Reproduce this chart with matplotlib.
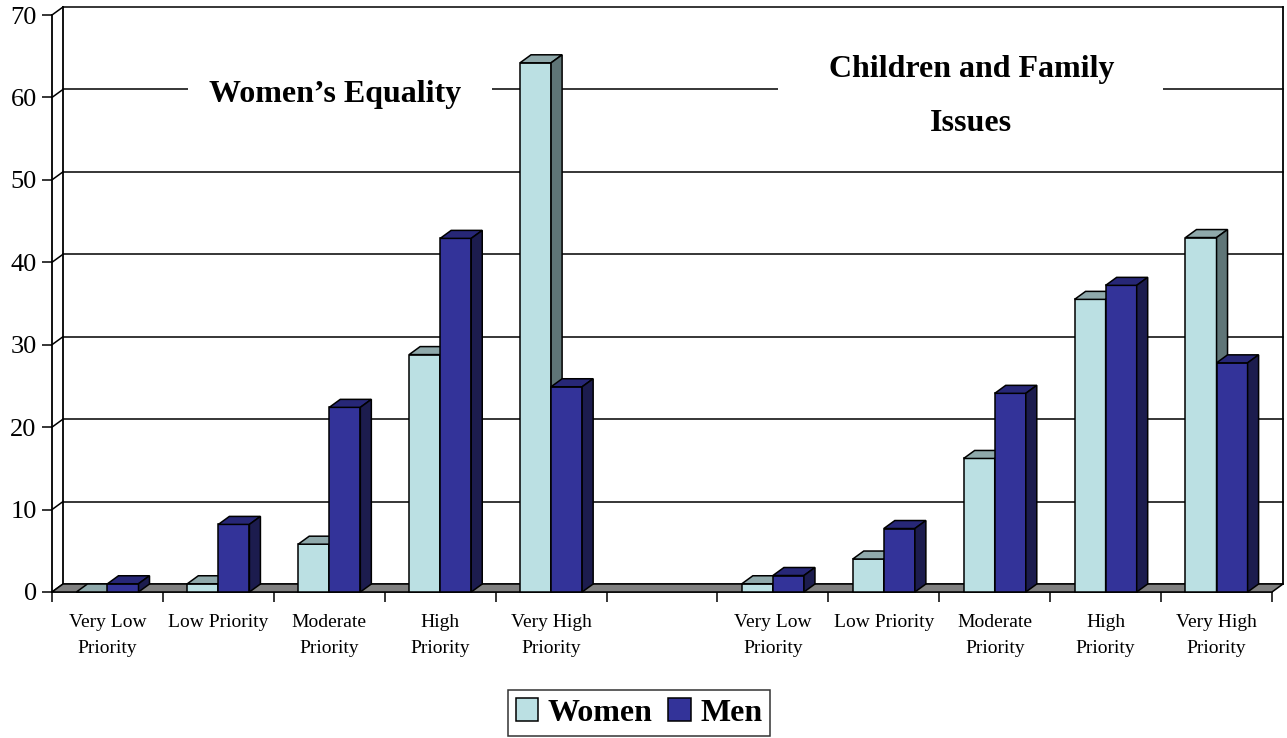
import numpy as np
import matplotlib
matplotlib.use('Agg')
import matplotlib.pyplot as plt
from matplotlib.patches import Polygon, Rectangle, Patch

plt.rcParams['font.family'] = ['Liberation Serif', 'DejaVu Serif']

# data (percent)
cats = ['Very Low\nPriority', 'Low Priority', 'Moderate\nPriority', 'High\nPriority', 'Very High\nPriority',
        '', 'Very Low\nPriority', 'Low Priority', 'Moderate\nPriority', 'High\nPriority', 'Very High\nPriority']
women = [0, 1, 5.8, 28.8, 64.2, None, 1, 4, 16.2, 35.5, 43.0]
men = [1, 8.2, 22.4, 42.9, 24.9, None, 2, 7.7, 24.1, 37.2, 27.8]
yticks = list(range(0, 71, 10))

c_w = ('#bbe0e3', '#8fa9ab', '#5f7577')   # front, top, side
c_m = ('#333399', '#272777', '#1c1c4e')
floor_c = '#808080'

fig = plt.figure(figsize=(12.87, 7.38), dpi=100)
ax = fig.add_axes([52/1287, 146/738, 1220/1287, 577/738])
n = len(cats)
ax.set_xlim(0, n)
ax.set_ylim(0, 70)

dx = 11/110.9      # depth offset in x (slot units)
dy = 8/8.24        # depth offset in y (value units)
bw = 0.28

def add(poly, fc, z):
    ax.add_patch(Polygon(poly, closed=True, fc=fc, ec='black', lw=1.1, zorder=z, clip_on=False,
                         joinstyle='miter'))

# back wall gridlines and borders
for v in yticks:
    ax.plot([dx, n + dx], [v + dy, v + dy], color='black', lw=1.1, zorder=1, clip_on=False)
    ax.plot([0, dx], [v, v + dy], color='black', lw=1.1, zorder=1, clip_on=False)
ax.plot([dx, dx], [dy, 70 + dy], color='black', lw=1.3, zorder=1, clip_on=False)
ax.plot([n + dx, n + dx], [dy, 70 + dy], color='black', lw=1.3, zorder=1, clip_on=False)

# white boxes behind the titles
ax.add_patch(Rectangle((1.23, 57), 2.74, 8, fc='white', ec='none', zorder=2, clip_on=False))
ax.add_patch(Rectangle((6.55, 55), 3.47, 13, fc='white', ec='none', zorder=2, clip_on=False))

# floor
add([(0, 0), (n, 0), (n + dx, dy), (dx, dy)], floor_c, 3)

def bar3d(x0, h, cols, z):
    add([(x0, 0), (x0 + bw, 0), (x0 + bw, h), (x0, h)], cols[0], z)
    add([(x0, h), (x0 + bw, h), (x0 + bw + dx, h + dy), (x0 + dx, h + dy)], cols[1], z)
    if h > 0:
        add([(x0 + bw, 0), (x0 + bw + dx, dy), (x0 + bw + dx, h + dy), (x0 + bw, h)], cols[2], z)

for i in range(n):
    if women[i] is None:
        continue
    c = i + 0.5
    bar3d(c - bw, women[i], c_w, 4 + i * 0.01)
    bar3d(c, men[i], c_m, 4.005 + i * 0.01)

# titles
ax.text(2.55, 60.3, 'Women\u2019s Equality', ha='center', va='center', fontsize=23,
        fontweight='bold', zorder=6)
ax.text(8.29, 60.1, 'Children and Family\nIssues', ha='center', va='center', fontsize=23,
        fontweight='bold', linespacing=2.12, zorder=6)

# axes
for s in ['top', 'right']:
    ax.spines[s].set_visible(False)
ax.spines['left'].set_linewidth(1.3)
ax.spines['bottom'].set_linewidth(1.1)
ax.spines['left'].set_zorder(7)
ax.set_yticks(yticks)
ax.tick_params(axis='y', direction='out', length=7, width=1.1, labelsize=19, pad=4)
ax.set_xticks(np.arange(0, n + 1))
ax.set_xticklabels([])
ax.set_xticks(np.arange(n) + 0.5, minor=True)
ax.set_xticklabels(cats, minor=True, fontsize=14, linespacing=1.65)
ax.tick_params(axis='x', which='major', direction='out', length=7.5, width=1.1)
ax.tick_params(axis='x', which='minor', length=0, pad=16)

handles = [Patch(fc=c_w[0], ec='black', lw=1.1, label='Women'),
           Patch(fc=c_m[0], ec='black', lw=1.1, label='Men')]
leg = fig.legend(handles=handles, loc='center', bbox_to_anchor=(0.4965, 0.034), ncol=2,
                 prop={'weight': 'bold', 'size': 23}, frameon=True, fancybox=False,
                 handlelength=0.7, handleheight=0.7, handletextpad=0.3, columnspacing=0.5,
                 borderpad=0.25, borderaxespad=0)
leg.get_frame().set_edgecolor('black')
leg.get_frame().set_linewidth(1.1)

fig.savefig('out.png', dpi=100)
